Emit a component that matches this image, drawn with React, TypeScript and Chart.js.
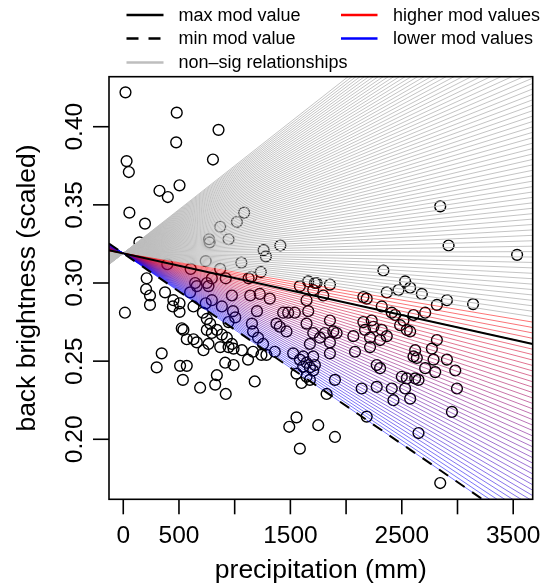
import React, { useEffect, useRef } from "react";
import { Chart, registerables } from "chart.js";

Chart.register(...registerables);

// ---- observed data (precipitation in mm, back brightness scaled) ----
const precipitation = [
  20, 480, 855, 30, 50, 475, 805, 505, 325, 400, 55, 195, 145, 1085, 1020, 870, 945, 770, 775, 1410,
  1260, 1280, 740, 1060, 395, 605, 870, 1235, 1150, 1125, 1660, 1720, 645, 750, 795, 920, 210, 15, 205, 240,
  240, 375, 450, 505, 445, 505, 630, 600, 660, 765, 795, 740, 715, 885, 975, 1140, 1225, 1315, 1200, 985,
  1005, 945, 750, 780, 750, 840, 795, 885, 930, 975, 945, 990, 1065, 1165, 1120, 1240, 1285, 1155, 1165, 1210,
  1255, 1360, 540, 525, 570, 630, 660, 720, 765, 870, 915, 990, 840, 825, 920, 1180, 690, 535, 510, 570,
  345, 300, 1375, 1435, 1480, 1540, 1405, 1465, 1525, 1585, 1615, 1645, 1675, 1705, 1555, 1600, 1675, 1645, 1705, 1675,
  1705, 1645, 1660, 1645, 1585, 1705, 1555, 1490, 1585, 1750, 1735, 1855, 1795, 2155, 2185, 2365, 2470, 2575, 2680, 2530,
  2815, 2905, 3140, 2320, 2410, 2440, 2605, 2710, 2515, 2485, 2545, 2575, 2230, 2155, 2245, 2170, 2215, 2215, 2320, 2365,
  2305, 2065, 2080, 1885, 1915, 1810, 1855, 1765, 1855, 1855, 1825, 1900, 2140, 2275, 2305, 2275, 2410, 2425, 2575, 2530,
  2500, 2545, 2620, 2650, 2620, 2605, 2635, 2770, 2815, 2785, 2800, 2710, 2905, 2980, 2995, 2950, 2650, 2185, 1900, 2845,
  2845, 2920, 3535, 2335, 1720, 1615,
];
const backBrightness = [
  0.422, 0.409, 0.398, 0.378, 0.371, 0.39, 0.379, 0.3625, 0.359, 0.355, 0.345, 0.338, 0.326, 0.345, 0.339, 0.336, 0.328, 0.328, 0.326, 0.324,
  0.321, 0.317, 0.314, 0.313, 0.312, 0.309, 0.309, 0.307, 0.304, 0.303, 0.301, 0.3, 0.3, 0.3, 0.303, 0.303, 0.303, 0.281, 0.296, 0.292,
  0.286, 0.294, 0.289, 0.287, 0.285, 0.2815, 0.285, 0.294, 0.298, 0.298, 0.289, 0.287, 0.281, 0.285, 0.292, 0.292, 0.293, 0.29, 0.282, 0.282,
  0.278, 0.275, 0.277, 0.274, 0.27, 0.27, 0.268, 0.267, 0.265, 0.261, 0.259, 0.258, 0.257, 0.256, 0.251, 0.254, 0.254, 0.274, 0.269, 0.265,
  0.261, 0.256, 0.27, 0.271, 0.264, 0.264, 0.262, 0.257, 0.261, 0.259, 0.249, 0.2475, 0.241, 0.235, 0.229, 0.237, 0.233, 0.238, 0.247, 0.247,
  0.255, 0.246, 0.274, 0.281, 0.281, 0.281, 0.272, 0.269, 0.255, 0.251, 0.253, 0.249, 0.246, 0.244, 0.242, 0.236, 0.238, 0.24, 0.253, 0.261,
  0.268, 0.274, 0.282, 0.289, 0.298, 0.2955, 0.214, 0.208, 0.194, 0.209, 0.3, 0.299, 0.292, 0.291, 0.29, 0.294, 0.2955, 0.297, 0.293, 0.301,
  0.286, 0.289, 0.2865, 0.285, 0.281, 0.2795, 0.2795, 0.281, 0.276, 0.273, 0.27, 0.269, 0.276, 0.275, 0.272, 0.27, 0.265, 0.259, 0.27, 0.266,
  0.2635, 0.266, 0.256, 0.269, 0.268, 0.268, 0.262, 0.265, 0.276, 0.255, 0.229, 0.238, 0.2325, 0.2475, 0.2455, 0.2335, 0.2325, 0.225, 0.226, 0.2325,
  0.24, 0.239, 0.239, 0.238, 0.257, 0.253, 0.252, 0.258, 0.2635, 0.251, 0.243, 0.2455, 0.251, 0.244, 0.2325, 0.2175, 0.204, 0.2145, 0.2015, 0.172,
  0.349, 0.324, 0.318, 0.308, 0.2475, 0.2465,
];

// ---- axes ----
const xTicks = [0, 500, 1000, 1500, 2000, 2500, 3000, 3500];
const xTickLabels = ["0", "500", "", "1500", "", "2500", "", "3500"];
const yTicks = [0.2, 0.25, 0.3, 0.35, 0.4];
const yTickLabels = ["0.20", "0.25", "0.30", "0.35", "0.40"];
const xRange = [-128, 3675];
const yRange = [0.1616, 0.432];

// ---- moderated regression lines (simple slopes across moderator values) ----
const pivot = [0, 0.319];
const slopeAtMinMod = -4.88e-5; // dashed black line, lowest moderator value
const slopeAtMaxMod = -1.58e-5; // solid black line
const slopeSigLimit = -1.16e-5; // slopes above this are non-significant
const slopeAtFanEnd = 5.6e-5; // last line of the fan
const fanLineCount = 112;

const FONT = '"Liberation Sans", Arial, Helvetica, sans-serif';

const legendCol1 = [
  { label: "max mod value", color: "#000000", dash: [] as number[] },
  { label: "min mod value", color: "#000000", dash: [12, 10] },
  { label: "non\u2013sig relationships", color: "#BEBEBE", dash: [] as number[] },
];
const legendCol2 = [
  { label: "higher mod values", color: "#FF0000", dash: [] as number[] },
  { label: "lower mod values", color: "#0000FF", dash: [] as number[] },
];

function lineFor(slope: number) {
  return [
    { x: xRange[0], y: pivot[1] + slope * (xRange[0] - pivot[0]) },
    { x: xRange[1], y: pivot[1] + slope * (xRange[1] - pivot[0]) },
  ];
}

const axesPlugin = {
  id: "rStyleAxes",
  afterDraw(chart: any) {
    const ctx = chart.ctx as CanvasRenderingContext2D;
    const { left, right, top, bottom } = chart.chartArea;
    const xs = chart.scales.x;
    const ys = chart.scales.y;
    ctx.save();
    ctx.strokeStyle = "#000";
    ctx.fillStyle = "#000";
    ctx.lineWidth = 1.6;
    ctx.setLineDash([]);
    ctx.strokeRect(left, top, right - left, bottom - top);

    ctx.font = `24.5px ${FONT}`;
    ctx.textAlign = "center";
    ctx.textBaseline = "alphabetic";
    xTicks.forEach((v, i) => {
      const px = xs.getPixelForValue(v);
      ctx.beginPath();
      ctx.moveTo(px, bottom);
      ctx.lineTo(px, bottom + 15);
      ctx.stroke();
      if (xTickLabels[i]) ctx.fillText(xTickLabels[i], px, bottom + 44);
    });
    yTicks.forEach((v, i) => {
      const py = ys.getPixelForValue(v);
      ctx.beginPath();
      ctx.moveTo(left, py);
      ctx.lineTo(left - 16, py);
      ctx.stroke();
      ctx.save();
      ctx.translate(left - 27.5, py);
      ctx.rotate(-Math.PI / 2);
      ctx.fillText(yTickLabels[i], 0, 0);
      ctx.restore();
    });

    ctx.font = `26.5px ${FONT}`;
    ctx.fillText("precipitation (mm)", (left + right) / 2, bottom + 79);
    ctx.save();
    ctx.translate(left - 74, (top + bottom) / 2);
    ctx.rotate(-Math.PI / 2);
    ctx.fillText("back brightness (scaled)", 0, 0);
    ctx.restore();

    // legend
    ctx.font = `18px ${FONT}`;
    ctx.textAlign = "left";
    ctx.textBaseline = "middle";
    const rowsY = [15, 38.5, 62.5];
    const drawItem = (item: any, x0: number, x1: number, tx: number, y: number) => {
      ctx.strokeStyle = item.color;
      ctx.lineWidth = 2.5;
      ctx.setLineDash(item.dash);
      ctx.beginPath();
      ctx.moveTo(x0, y);
      ctx.lineTo(x1, y);
      ctx.stroke();
      ctx.setLineDash([]);
      ctx.fillStyle = "#000";
      ctx.fillText(item.label, tx, y + 1);
    };
    legendCol1.forEach((it, i) => drawItem(it, 126.5, 163.5, 178.5, rowsY[i]));
    legendCol2.forEach((it, i) => drawItem(it, 341, 377.5, 393, rowsY[i]));
    ctx.restore();
  },
};

export default function App() {
  const canvasRef = useRef<HTMLCanvasElement | null>(null);

  useEffect(() => {
    if (!canvasRef.current) return;
    const datasets: any[] = [];

    datasets.push({
      label: "observations",
      data: precipitation.map((x, i) => ({ x, y: backBrightness[i] })),
      showLine: false,
      pointRadius: 5.4,
      pointBorderWidth: 1.4,
      pointBorderColor: "#000",
      pointBackgroundColor: "rgba(0,0,0,0)",
      order: 10,
    });

    for (let i = 0; i < fanLineCount; i++) {
      const s = slopeAtMinMod + ((slopeAtFanEnd - slopeAtMinMod) * i) / (fanLineCount - 1);
      let color: string;
      if (s > slopeSigLimit) {
        color = "rgba(190,190,190,0.9)";
      } else {
        const t = (s - slopeAtMinMod) / (slopeSigLimit - slopeAtMinMod);
        color = `rgba(${Math.round(255 * t)},0,${Math.round(255 * (1 - t))},0.55)`;
      }
      datasets.push({
        label: "fan" + i,
        data: lineFor(s),
        showLine: true,
        borderColor: color,
        borderWidth: 1,
        pointRadius: 0,
        clip: 0,
        order: 5,
      });
    }

    datasets.push({
      label: "max mod value",
      data: lineFor(slopeAtMaxMod),
      showLine: true,
      borderColor: "#000",
      borderWidth: 2,
      pointRadius: 0,
      clip: 0,
      order: 0,
    });
    datasets.push({
      label: "min mod value",
      data: lineFor(slopeAtMinMod),
      showLine: true,
      borderColor: "#000",
      borderWidth: 2,
      borderDash: [11, 9],
      pointRadius: 0,
      clip: 0,
      order: 0,
    });

    const chart = new Chart(canvasRef.current, {
      type: "scatter",
      data: { datasets },
      options: {
        animation: false,
        responsive: false,
        events: [],
        layout: { padding: { left: 109, right: 15.3, top: 76.7, bottom: 85.7 } },
        scales: {
          x: { type: "linear", min: xRange[0], max: xRange[1], display: false },
          y: { type: "linear", min: yRange[0], max: yRange[1], display: false },
        },
        plugins: { legend: { display: false }, tooltip: { enabled: false } },
      },
      plugins: [axesPlugin],
    });
    return () => chart.destroy();
  }, []);

  return (
    <div style={{ position: "absolute", left: 0, top: 0, width: 548, height: 585, background: "#fff" }}>
      <canvas ref={canvasRef} width={548} height={585} style={{ display: "block" }} />
    </div>
  );
}
